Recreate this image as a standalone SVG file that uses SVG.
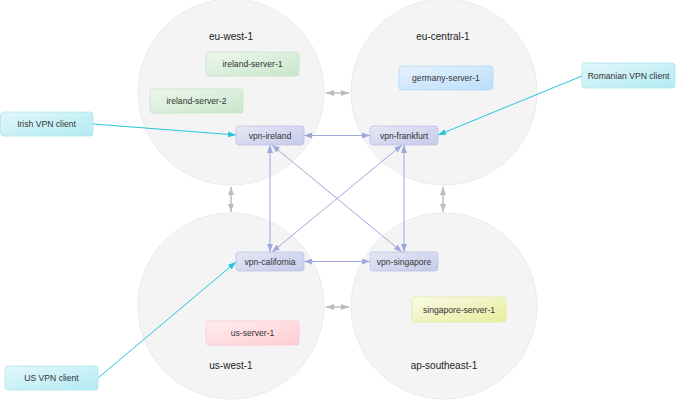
<svg xmlns="http://www.w3.org/2000/svg" width="676" height="400" viewBox="0 0 676 400">
<style>
.region{fill:#f4f4f4;stroke:#ebebeb;stroke-width:1}
.rlabel{font-family:"Liberation Sans",Arial,sans-serif;font-size:10px;fill:#222;text-anchor:middle}
.blabel{font-family:"Liberation Sans",Arial,sans-serif;font-size:8.6px;fill:#333;text-anchor:middle;dominant-baseline:central}
.box{stroke-width:0.8}
.cyan{stroke:#26c6da;stroke-width:1;fill:none}
.vpn{stroke:#9fa8da;stroke-width:1;fill:none}
.gray{stroke:#bdbdbd;stroke-width:1.5;fill:none}
</style>
<defs>
<linearGradient id="gGreen" x1="0" y1="0" x2="1" y2="1"><stop offset="0" stop-color="#eef7ee"/><stop offset="1" stop-color="#c8e6c9"/></linearGradient>
<linearGradient id="gBlue" x1="0" y1="0" x2="1" y2="1"><stop offset="0" stop-color="#e6f2fd"/><stop offset="1" stop-color="#bbdefb"/></linearGradient>
<linearGradient id="gRed" x1="0" y1="0" x2="1" y2="1"><stop offset="0" stop-color="#ffedf0"/><stop offset="1" stop-color="#ffcdd2"/></linearGradient>
<linearGradient id="gYellow" x1="0" y1="0" x2="1" y2="1"><stop offset="0" stop-color="#fafbe8"/><stop offset="1" stop-color="#e6ee9c"/></linearGradient>
<linearGradient id="gVpn" x1="0" y1="0" x2="1" y2="1"><stop offset="0" stop-color="#e6e8f6"/><stop offset="1" stop-color="#c5cae9"/></linearGradient>
<linearGradient id="gCyan" x1="0" y1="0" x2="1" y2="1"><stop offset="0" stop-color="#e2f7fa"/><stop offset="1" stop-color="#b2ebf2"/></linearGradient>
<marker id="mCyan" viewBox="0 0 8 6" refX="8" refY="3" markerWidth="8" markerHeight="6" markerUnits="userSpaceOnUse" orient="auto-start-reverse"><path d="M0,0 L8,3 L0,6 z" fill="#26c6da"/></marker>
<marker id="mVpn" viewBox="0 0 8 6" refX="8" refY="3" markerWidth="8" markerHeight="6" markerUnits="userSpaceOnUse" orient="auto-start-reverse"><path d="M0,0 L8,3 L0,6 z" fill="#9fa8da"/></marker>
<marker id="mGray" viewBox="0 0 8 6" refX="8" refY="3" markerWidth="8" markerHeight="6" markerUnits="userSpaceOnUse" orient="auto-start-reverse"><path d="M0,0 L8,3 L0,6 z" fill="#bdbdbd"/></marker>
</defs>

<g id="regions">
<g id="eu-west-1"><circle class="region" cx="231" cy="92" r="93"/><text class="rlabel" x="231" y="40">eu-west-1</text></g>
<g id="eu-central-1"><circle class="region" cx="444" cy="92" r="93"/><text class="rlabel" x="443" y="40">eu-central-1</text></g>
<g id="us-west-1"><circle class="region" cx="231" cy="306" r="93"/><text class="rlabel" x="231" y="369">us-west-1</text></g>
<g id="ap-southeast-1"><circle class="region" cx="444" cy="306" r="93"/><text class="rlabel" x="444" y="369">ap-southeast-1</text></g>
</g>

<g id="connectors">
<line class="gray" x1="326" y1="93" x2="349" y2="93" marker-start="url(#mGray)" marker-end="url(#mGray)"/>
<line class="gray" x1="326" y1="307" x2="349" y2="307" marker-start="url(#mGray)" marker-end="url(#mGray)"/>
<line class="gray" x1="231" y1="187" x2="231" y2="212" marker-start="url(#mGray)" marker-end="url(#mGray)"/>
<line class="gray" x1="443" y1="187" x2="443" y2="212" marker-start="url(#mGray)" marker-end="url(#mGray)"/>

<line class="vpn" x1="304" y1="135.5" x2="370" y2="135.5" marker-start="url(#mVpn)" marker-end="url(#mVpn)"/>
<line class="vpn" x1="304" y1="261.5" x2="370" y2="261.5" marker-start="url(#mVpn)" marker-end="url(#mVpn)"/>
<line class="vpn" x1="270" y1="145" x2="270" y2="252" marker-start="url(#mVpn)" marker-end="url(#mVpn)"/>
<line class="vpn" x1="404" y1="145" x2="404" y2="252" marker-start="url(#mVpn)" marker-end="url(#mVpn)"/>
<line class="vpn" x1="272" y1="145" x2="402" y2="252" marker-start="url(#mVpn)" marker-end="url(#mVpn)"/>
<line class="vpn" x1="402" y1="145" x2="272" y2="252" marker-start="url(#mVpn)" marker-end="url(#mVpn)"/>

<line class="cyan" x1="93" y1="124" x2="236" y2="135" marker-end="url(#mCyan)"/>
<line class="cyan" x1="582" y1="76" x2="438" y2="135" marker-end="url(#mCyan)"/>
<line class="cyan" x1="98" y1="378" x2="236" y2="262" marker-end="url(#mCyan)"/>
</g>

<g id="ireland-server-1"><rect class="box" x="206" y="52" width="93" height="24" rx="3" fill="url(#gGreen)" stroke="#c3e3c5"/><text class="blabel" x="252.5" y="64">ireland-server-1</text></g>
<g id="ireland-server-2"><rect class="box" x="150" y="89" width="93" height="24" rx="3" fill="url(#gGreen)" stroke="#c3e3c5"/><text class="blabel" x="196.5" y="101">ireland-server-2</text></g>
<g id="germany-server-1"><rect class="box" x="399" y="66" width="94" height="24" rx="3" fill="url(#gBlue)" stroke="#b5d9f7"/><text class="blabel" x="446" y="78">germany-server-1</text></g>
<g id="us-server-1"><rect class="box" x="206" y="321" width="93" height="24" rx="3" fill="url(#gRed)" stroke="#fbc7cc"/><text class="blabel" x="252.5" y="333">us-server-1</text></g>
<g id="singapore-server-1"><rect class="box" x="412" y="297" width="94" height="25" rx="3" fill="url(#gYellow)" stroke="#e3eaa0"/><text class="blabel" x="459" y="309.5">singapore-server-1</text></g>

<g id="vpn-ireland"><rect class="box" x="236" y="126" width="68" height="19" rx="3" fill="url(#gVpn)" stroke="#bcc1e6"/><text class="blabel" x="270" y="135.5">vpn-ireland</text></g>
<g id="vpn-frankfurt"><rect class="box" x="370" y="126" width="68" height="19" rx="3" fill="url(#gVpn)" stroke="#bcc1e6"/><text class="blabel" x="404" y="135.5">vpn-frankfurt</text></g>
<g id="vpn-california"><rect class="box" x="236" y="252" width="68" height="19" rx="3" fill="url(#gVpn)" stroke="#bcc1e6"/><text class="blabel" x="270" y="261.5">vpn-california</text></g>
<g id="vpn-singapore"><rect class="box" x="370" y="252" width="68" height="19" rx="3" fill="url(#gVpn)" stroke="#bcc1e6"/><text class="blabel" x="404" y="261.5">vpn-singapore</text></g>

<g id="irish-vpn-client"><rect class="box" x="0.5" y="112" width="92.5" height="24" rx="3" fill="url(#gCyan)" stroke="#ade6ee"/><text class="blabel" x="46.5" y="124">Irish VPN client</text></g>
<g id="romanian-vpn-client"><rect class="box" x="582" y="63" width="93" height="25" rx="3" fill="url(#gCyan)" stroke="#ade6ee"/><text class="blabel" x="628.5" y="75.5">Romanian VPN client</text></g>
<g id="us-vpn-client"><rect class="box" x="5" y="366" width="93" height="24" rx="3" fill="url(#gCyan)" stroke="#ade6ee"/><text class="blabel" x="51.5" y="378">US VPN client</text></g>
</svg>
